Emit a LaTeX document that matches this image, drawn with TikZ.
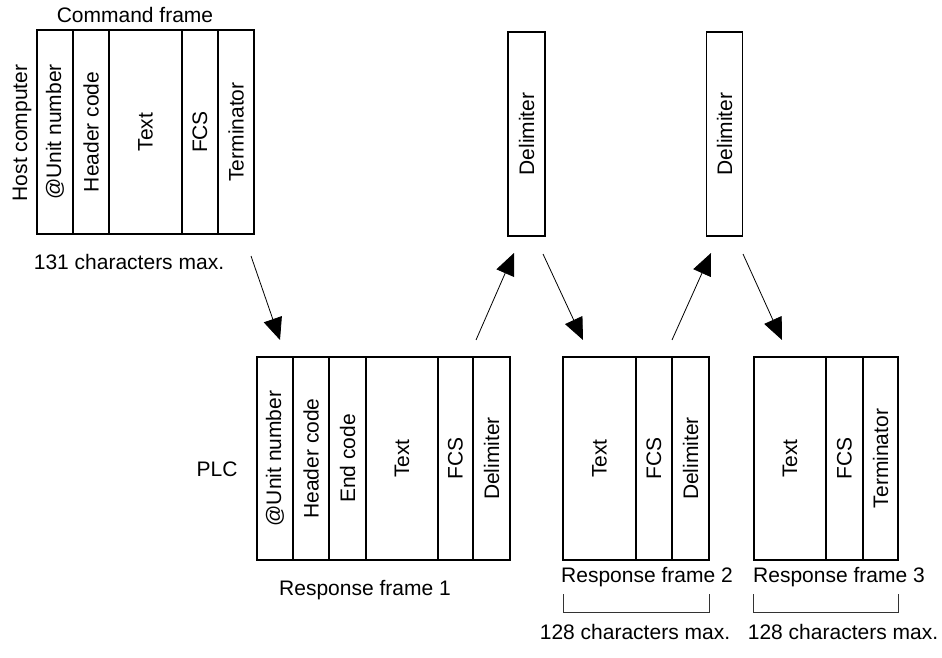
\documentclass[tikz,border=0pt]{standalone}
\usepackage{fontspec}
\setmainfont{Liberation Sans}
\usepackage{tikz}
\usetikzlibrary{arrows.meta}
\tikzset{t/.style={font=\fontsize{21}{21}\selectfont, inner sep=0pt}}
\tikzset{fld/.style={t, draw, line width=1.3pt, rotate=90, minimum width=204pt, minimum height=36pt}}
\tikzset{arr/.style={-{Triangle[length=22pt,width=19pt]}, line width=0.8pt}}

\begin{document}
\begin{tikzpicture}[x=1pt,y=-1pt]
      \useasboundingbox (0,0) rectangle (942,658);
      % host side
      \node[t] (cmdlbl) at (135,15) {Command frame};
      \node[t, rotate=90] (host) at (22,133) {Host computer};
      \node[fld] (cu) at (55,132) {@Unit number};
      \node[fld] (ch) at (91,132) {Header code};
      \node[fld, minimum height=73pt] (ct) at (145.5,132) {Text};
      \node[fld] (cf) at (200,132) {FCS};
      \node[fld] (cm) at (236,132) {Terminator};
      \node[t] (max1) at (129,262) {131 characters max.};
      \node[fld, minimum height=37pt] (d1) at (526.5,134) {Delimiter};
      \node[fld] (d2) at (724.5,134) {Delimiter};
      % PLC side
      \node[t] (plc) at (217,469) {PLC};
      \node[fld, minimum width=203pt] (ru) at (275,458.5) {@Unit number};
      \node[fld, minimum width=203pt] (rh) at (311,458.5) {Header code};
      \node[fld, minimum width=203pt, minimum height=37pt] (re) at (347.5,458.5) {End code};
      \node[fld, minimum width=203pt, minimum height=72pt] (rt) at (402,458.5) {Text};
      \node[fld, minimum width=203pt] (rf) at (455.5,458.5) {FCS};
      \node[fld, minimum width=203pt, minimum height=37pt] (rd) at (491.5,458.5) {Delimiter};
      \node[fld, minimum width=203pt, minimum height=73pt] (st) at (599.5,458.5) {Text};
      \node[fld, minimum width=203pt] (sf) at (654,458.5) {FCS};
      \node[fld, minimum width=203pt, minimum height=37pt] (sd) at (690.5,458.5) {Delimiter};
      \node[fld, minimum width=203pt, minimum height=72pt] (wt) at (790,458.5) {Text};
      \node[fld, minimum width=203pt, minimum height=37pt] (wf) at (844.5,458.5) {FCS};
      \node[fld, minimum width=203pt, minimum height=35pt] (wm) at (880.5,458.5) {Terminator};
      \node[t] (rf1) at (365,590) {Response frame 1};
      \node[t] (rf2) at (647,577) {Response frame 2};
      \node[t] (rf3) at (839,577) {Response frame 3};
      \node[t] (max2) at (635,632) {128 characters max.};
      \node[t] (max3) at (843,632) {128 characters max.};
      % arrows
      \coordinate (a1s) at (251,256); \coordinate (a1e) at (280,340);
      \coordinate (a2s) at (476,340); \coordinate (a2e) at (514,253);
      \coordinate (a3s) at (543,254); \coordinate (a3e) at (583,340);
      \coordinate (a4s) at (672,340); \coordinate (a4e) at (711,253);
      \coordinate (a5s) at (743,254); \coordinate (a5e) at (782,340);
      \draw[arr] (a1s) -- (a1e);
      \draw[arr] (a2s) -- (a2e);
      \draw[arr] (a3s) -- (a3e);
      \draw[arr] (a4s) -- (a4e);
      \draw[arr] (a5s) -- (a5e);
      % brackets
      \draw[line width=0.8pt, black!80] (563,594)--(563,612)--(709,612)--(709,594);
      \draw[line width=0.8pt, black!80] (753,594)--(753,612)--(898,612)--(898,594);
    \end{tikzpicture}
\end{document}
